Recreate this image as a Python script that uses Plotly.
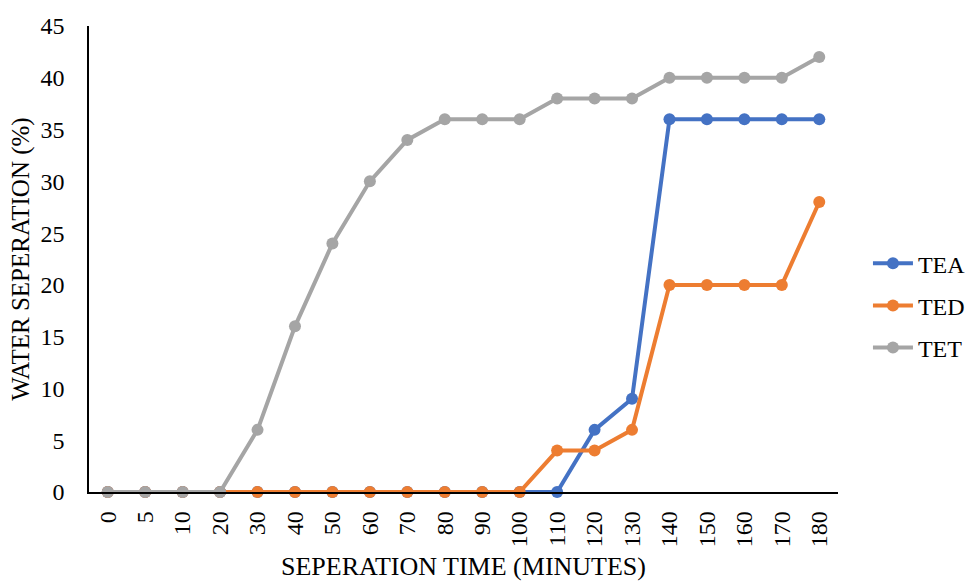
import plotly.graph_objects as go

categories = ["0", "5", "10", "20", "30", "40", "50", "60", "70", "80", "90",
              "100", "110", "120", "130", "140", "150", "160", "170", "180"]
tea = [0, 0, 0, 0, 0, 0, 0, 0, 0, 0, 0, 0, 0, 6, 9, 36, 36, 36, 36, 36]
ted = [0, 0, 0, 0, 0, 0, 0, 0, 0, 0, 0, 0, 4, 4, 6, 20, 20, 20, 20, 28]
tet = [0, 0, 0, 0, 6, 16, 24, 30, 34, 36, 36, 36, 38, 38, 38, 40, 40, 40, 40, 42]

series = [("TEA", tea, "#4472C4"), ("TED", ted, "#ED7D31"), ("TET", tet, "#A5A5A5")]

fig = go.Figure()
for name, vals, col in series:
    fig.add_trace(go.Scatter(
        x=categories, y=vals, name=name, mode="lines+markers", legendgroup=name,
        line=dict(color=col, width=4), marker=dict(color=col, size=12),
        cliponaxis=False,
    ))

font = "Liberation Serif, Times New Roman, serif"
fig.update_layout(
    width=970, height=582,
    margin=dict(l=89, r=132, t=26, b=90, autoexpand=False),
    paper_bgcolor="white", plot_bgcolor="white",
    font=dict(family=font, size=24, color="black"),
    legend=dict(x=1.04, y=0.40, yanchor="middle", xanchor="left",
                font=dict(size=24), itemwidth=40, tracegroupgap=8),
    xaxis=dict(type="category", range=[-0.5, 19.5], showline=True, linecolor="black",
               linewidth=1.5, showgrid=False, ticks="", tickangle=-90, ticklabelstandoff=8,
               title=dict(text="SEPERATION TIME (MINUTES)", standoff=10, font=dict(size=26))),
    yaxis=dict(range=[0, 45], dtick=5, showline=True, linecolor="black", linewidth=1.5,
               showgrid=False, ticks="", zeroline=False, ticklabelstandoff=18,
               title=dict(text="WATER SEPERATION (%)", standoff=4, font=dict(size=25))),
)
fig.write_html("out.html")
